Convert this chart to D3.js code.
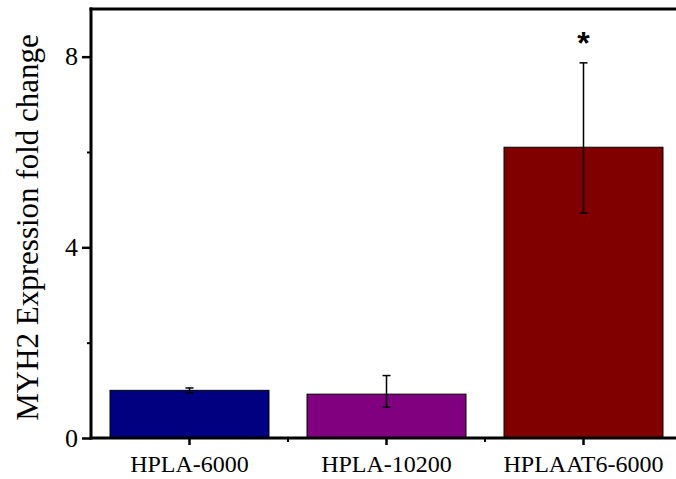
<!DOCTYPE html>
<html>
<head>
<meta charset="utf-8">
<script src="https://cdn.jsdelivr.net/npm/d3@7"></script>
<style>
  body { margin: 0; background: #fff; }
  svg { display: block; font-family: "Liberation Serif", "Times New Roman", serif; }
</style>
</head>
<body>
<svg width="676" height="479"></svg>
<script>
const categories = ['HPLA-6000', 'HPLA-10200', 'HPLAAT6-6000']
const values = [1.0, 0.92, 6.1]
const errLow = [0.95, 0.65, 4.72]
const errHigh = [1.05, 1.31, 7.87]
const colors = ['#000080', '#800080', '#800000']
const marks = ['', '', '*']
const yMajor = [0, 4, 8]
const yMinor = [2, 6]

const svg = d3.select('svg')
const plotLeft = 91, plotRight = 682, plotTop = 9, plotBottom = 438

const x = d3.scaleBand()
  .domain(categories)
  .range([plotLeft, plotRight])
  .paddingInner(0.193)
  .paddingOuter(0.0965)

const y = d3.scaleLinear().domain([0, 9]).range([plotBottom, plotTop])

// bars
svg.append('g').selectAll('rect')
  .data(categories)
  .join('rect')
  .attr('x', d => x(d))
  .attr('y', (d, i) => y(values[i]))
  .attr('width', x.bandwidth())
  .attr('height', (d, i) => y(0) - y(values[i]))
  .attr('fill', (d, i) => colors[i])
  .attr('stroke', '#000')
  .attr('stroke-width', 1)

// error bars
const err = svg.append('g').attr('stroke', '#000').attr('stroke-width', 1.5)
categories.forEach((c, i) => {
  const cx = x(c) + x.bandwidth() / 2
  err.append('line').attr('x1', cx).attr('x2', cx).attr('y1', y(errLow[i])).attr('y2', y(errHigh[i]))
  err.append('line').attr('x1', cx - 4).attr('x2', cx + 4).attr('y1', y(errLow[i])).attr('y2', y(errLow[i]))
  err.append('line').attr('x1', cx - 4).attr('x2', cx + 4).attr('y1', y(errHigh[i])).attr('y2', y(errHigh[i]))
})

// significance marks
svg.append('g').selectAll('text')
  .data(categories)
  .join('text')
  .attr('x', d => x(d) + x.bandwidth() / 2)
  .attr('y', 54)
  .attr('text-anchor', 'middle')
  .style('font-family', '"Liberation Sans", Arial, sans-serif')
  .style('font-weight', 'bold')
  .style('font-size', '32px')
  .text((d, i) => marks[i])

// y axis
const yAxis = svg.append('g')
  .attr('transform', `translate(${plotLeft},0)`)
  .call(d3.axisLeft(y).tickValues(yMajor).tickSize(9).tickPadding(4).tickFormat(d3.format('d')))
yAxis.select('.domain').remove()
yAxis.selectAll('.tick line').attr('stroke-width', 2.5)
yAxis.selectAll('.tick text')
  .style('font-family', '"Liberation Serif", serif')
  .style('font-size', '26px')
  .attr('fill', '#000')

svg.append('g')
  .attr('transform', `translate(${plotLeft},0)`)
  .call(d3.axisLeft(y).tickValues(yMinor).tickSize(4).tickFormat(''))
  .call(g => g.select('.domain').remove())
  .selectAll('.tick line').attr('stroke-width', 2)

// x axis
const xAxis = svg.append('g')
  .attr('transform', `translate(0,${plotBottom})`)
  .call(d3.axisBottom(x).tickSize(7).tickSizeOuter(0))
xAxis.select('.domain').remove()
xAxis.selectAll('.tick line').attr('stroke-width', 2.5)
xAxis.selectAll('.tick text')
  .attr('y', 34)
  .attr('dy', 0)
  .style('font-family', '"Liberation Serif", serif')
  .style('font-size', '24px')
  .attr('fill', '#000')

// minor x ticks between categories
const bounds = categories.slice(1).map(c => x(c) - x.step() * x.paddingInner() / 2)
svg.append('g').selectAll('line')
  .data(bounds)
  .join('line')
  .attr('x1', d => d).attr('x2', d => d)
  .attr('y1', plotBottom).attr('y2', plotBottom + 4)
  .attr('stroke', '#000').attr('stroke-width', 2)

// frame lines: left, bottom, top
const frame = svg.append('g').attr('stroke', '#000').attr('stroke-width', 3).attr('fill', 'none')
frame.append('line').attr('x1', plotLeft).attr('x2', plotLeft).attr('y1', plotTop - 1.5).attr('y2', plotBottom + 1.5)
frame.append('line').attr('x1', plotLeft - 1.5).attr('x2', 676).attr('y1', plotBottom).attr('y2', plotBottom)
frame.append('line').attr('x1', plotLeft - 1.5).attr('x2', 676).attr('y1', plotTop).attr('y2', plotTop)

// y title
svg.append('text')
  .attr('transform', `translate(38,${(plotTop + plotBottom) / 2 + 4}) rotate(-90)`)
  .attr('text-anchor', 'middle')
  .style('font-size', '31px')
  .text('MYH2 Expression fold change')
</script>
</body>
</html>
